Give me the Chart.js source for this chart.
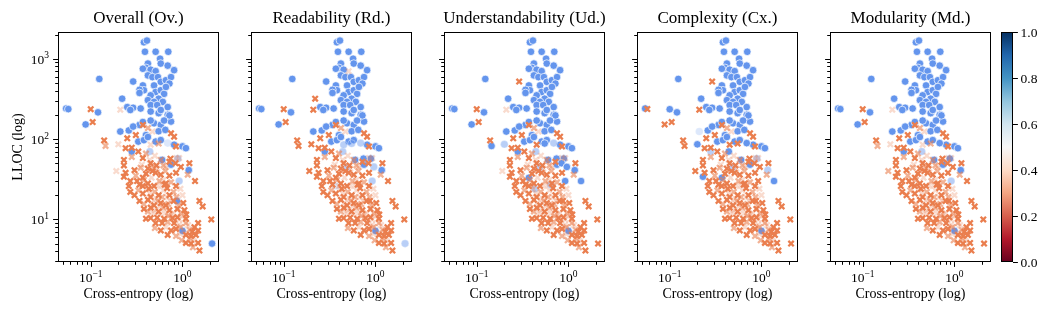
<!DOCTYPE html>
<html><head><meta charset="utf-8">
<script src="https://cdn.jsdelivr.net/npm/chart.js@4.4.1/dist/chart.umd.min.js"></script>
<style>
html,body{margin:0;padding:0;background:#fff;}
#wrap{position:relative;width:1049px;height:313px;overflow:hidden;background:#fff;}
#wrap canvas{position:absolute;left:0;top:0;}
</style></head><body><div id="wrap"></div>
<script>
// ---------------- DATA ----------------
const panelTitles = ['Overall (Ov.)', 'Readability (Rd.)', 'Understandability (Ud.)', 'Complexity (Cx.)', 'Modularity (Md.)'];
const xAxisLabel = 'Cross-entropy (log)';
const yAxisLabel = 'LLOC (log)';
// code per point: one char per panel (Ov, Rd, Ud, Cx, Md)
// B blue circle, b light blue circle, c very light blue circle, O orange cross, o light orange cross, p very light orange cross
const upperPoints = [
  [0.38,1600,'BBBBB'],[0.41,1680,'BBBBB'],[0.39,1220,'BBBBB'],[0.51,1220,'BBBBB'],[0.70,1220,'BBBBB'],
  [0.57,1000,'BBBBB'],[0.42,870,'BBBBB'],[0.40,770,'BBBBB'],[0.37,750,'BBBBB'],[0.58,870,'BBBBB'],
  [0.69,820,'BBBBB'],[0.81,720,'BBBBB'],[0.45,730,'BBBBB'],[0.51,700,'BpBBB'],[0.42,620,'BBBBB'],
  [0.47,590,'BBBBB'],[0.54,590,'BBBBB'],[0.58,515,'BBBBB'],[0.66,540,'BBBBB'],[0.75,590,'BBBBB'],
  [0.72,490,'BBBBB'],[0.37,465,'BBBBB'],[0.38,405,'BBBBB'],[0.49,465,'BBBBB'],[0.51,385,'BBBBB'],
  [0.58,405,'BBBBB'],[0.63,365,'BBBBB'],[0.66,445,'BBBBB'],[0.45,350,'BBBBB'],[0.42,305,'BBBBB'],
  [0.55,318,'BBBBB'],[0.61,290,'BBBBB'],[0.49,290,'BBBBB'],[0.45,265,'BBBBB'],[0.53,265,'BBBBB'],
  [0.69,250,'BBBBB'],[0.124,560,'BBBBB'],[0.29,520,'BBOOB'],[0.34,410,'BBBBB'],[0.34,375,'BBBBB'],
  [0.22,318,'BOBBB'],[0.25,250,'BBBBB'],[0.29,245,'BBBBB'],[0.35,240,'BBBBB'],[0.054,240,'BBBBB'],
  [0.057,236,'BBBOB'],[0.12,215,'BBBBB'],[0.088,152,'BBBOB'],[0.21,124,'BBBcB'],[0.26,128,'BBBBB'],
  [0.34,150,'BBBBB'],[0.29,143,'BBBBB'],[0.33,93,'BBBBB'],[0.28,70,'BBBbB'],[0.45,220,'BBBBB'],
  [0.55,210,'BBBBB'],[0.69,200,'BBBBB'],[0.49,157,'BBBBB'],[0.58,150,'BBBBB'],[0.75,165,'BBBBB'],
  [0.40,112,'BBBBB'],[0.51,93,'BBBBB'],[0.81,85,'BBBBB'],[1.0,81,'BBBBB'],[1.09,77,'BBBBB'],
  [0.6,55,'BBBBB'],[0.75,48,'BBBBB'],[0.38,97,'BBBBB'],[1.17,41,'BBBbB'],[0.27,230,'BBBBB'],
  [0.58,230,'BBBBB'],[0.72,197,'BBBBB'],[0.63,170,'BBBBB'],[0.45,170,'BBBBB'],[0.37,163,'BBBBB'],
  [0.42,106,'BBBBB'],[0.58,97,'BBBBB'],[0.55,125,'BBBBB'],[0.65,130,'BBBBB'],[1.0,7.2,'BBBBB']
];
const middlePoints = [
  [0.69,89,'cbbBB'],[0.44,70,'bbbBb'],[0.92,30,'bbBOb'],[0.89,57,'bBBbB'],[0.87,17,'BOOOO'],
  [2.1,5,'BbOOO'],[0.48,44,'obbbo'],[0.37,33,'OOBBO'],[0.43,24,'OObOO'],[0.64,27,'OObOO'],
  [0.74,57,'OBBOO'],[0.84,50,'OOBOO'],[0.96,45,'ObBOO'],[1.37,30,'OOBBO'],[0.37,26,'OcOOO'],
  [0.45,85,'pbOOp'],[0.55,88,'obBOo'],
  [0.10,235,'OOOBO'],[0.105,163,'OOOOO'],[0.21,232,'pOpOp'],[0.14,96,'OOOOO'],[0.145,82,'oOBOo'],
  [0.20,86,'pObBp'],[0.25,102,'OOOOO'],[0.31,112,'OOOOO'],[0.24,77,'OOOOO'],[0.28,78,'OOOOO'],
  [0.23,47,'OOOOO'],[0.19,40,'pOpOo'],[0.30,41,'OOOOO'],[0.23,34,'OOOBO'],[0.32,30,'OOOOO'],
  [0.26,26,'OOOOO'],[0.37,150,'OOOOO'],[0.42,137,'ooooo'],[0.47,124,'ppppp'],[0.75,118,'OOOOO'],
  [0.81,107,'OOOOO'],[0.85,81,'OOOOO'],[1.19,50,'OOOOO'],[0.92,58,'ppppp'],[0.66,28,'OOOOO']
];
const lowerPoints = [
  [0.23,55,'O'],[0.28,60,'o'],[0.37,58,'O'],[0.45,50,'O'],[0.50,62,'p'],[0.58,55,'o'],[0.72,52,'O'],[0.85,58,'p'],[0.40,66,'o'],[0.33,70,'O'],[0.52,47,'O'],
  [0.24,38,'O'],[0.35,44,'o'],[0.40,37,'O'],[0.47,40,'O'],[0.53,43,'p'],[0.58,36,'O'],[0.65,40,'o'],[0.72,35,'O'],[0.85,38,'O'],[1.14,36,'o'],[0.42,43,'O'],[0.51,38,'O'],
  [0.27,30,'O'],[0.34,27,'O'],[0.38,31,'o'],[0.42,28,'O'],[0.46,33,'p'],[0.49,26,'O'],[0.56,30,'o'],[0.60,27,'p'],[0.68,24.5,'O'],[0.75,29,'o'],[0.85,26,'O'],[0.95,24,'p'],
  [0.27,22,'O'],[0.30,20,'O'],[0.33,23,'o'],[0.37,21,'O'],[0.41,24,'p'],[0.45,19,'O'],[0.50,22,'o'],[0.55,20,'O'],[0.62,23,'p'],[0.72,20,'O'],[0.80,22,'o'],
  [0.34,17,'O'],[0.38,15.5,'o'],[0.42,17.5,'O'],[0.46,16,'p'],[0.49,15,'O'],[0.54,17,'o'],[0.58,16,'O'],[0.66,15,'O'],[0.73,17,'p'],[0.80,17,'O'],[0.90,15,'o'],[1.53,17,'O'],[1.66,14.5,'O'],
  [0.38,13.5,'O'],[0.42,12.5,'o'],[0.45,14,'O'],[0.50,13,'p'],[0.55,12.5,'O'],[0.62,14,'o'],[0.72,13,'O'],[0.80,12,'p'],[0.88,13.5,'O'],[0.96,12,'o'],[1.05,13,'O'],[1.10,11.5,'O'],
  [0.40,10.2,'O'],[0.45,10.4,'O'],[0.53,10.5,'O'],[0.57,11.5,'p'],[0.63,10.2,'O'],[0.70,11,'o'],[0.78,10.4,'O'],[0.88,10.6,'O'],[1.09,10.2,'O'],[2.06,10,'O'],[0.98,11,'p'],
  [0.51,9,'O'],[0.60,9,'O'],[0.69,9.3,'o'],[0.81,9,'O'],[0.92,8.6,'p'],[1.09,9,'o'],[1.35,8,'O'],[1.48,9,'O'],
  [0.50,7.8,'o'],[0.58,7.3,'O'],[0.66,8,'p'],[0.75,7.3,'O'],[0.85,7.6,'O'],[1.2,7.4,'o'],[1.28,7,'O'],[1.48,7.3,'O'],[1.1,6.8,'p'],
  [0.69,6.4,'O'],[0.85,6.2,'o'],[0.95,6.6,'p'],[1.09,6.4,'O'],[1.24,6.2,'O'],[1.4,6.4,'O'],[1.2,5.8,'o'],
  [1.09,5.1,'O'],[1.24,5,'O'],[1.48,5.1,'O'],[1.32,5.4,'p'],[0.98,5.5,'o'],
  [1.53,4.1,'O'],[1.3,4.5,'o'],
  [0.44,21,'p'],[0.52,18,'p'],[0.60,19,'o'],[0.65,12,'p'],[0.70,15.5,'o'],[0.48,12,'p'],[0.56,14.5,'p'],[0.75,11.5,'p'],
  [0.40,26,'p'],[0.53,26,'p'],[0.62,31,'p'],[0.68,19,'p'],[0.86,19,'o'],[0.92,10,'p'],[0.95,8,'o'],[1.15,8.5,'p'],
  [0.31,35,'o'],[0.36,48,'p'],[0.44,55,'p'],[0.62,47,'o'],[1.0,20,'p'],[1.02,16,'O'],[0.66,45,'p']
];
const xRange = [0.044, 2.5];
const yRange = [2.95, 2150];
const xMajorTicks = [0.1, 1];
const xMajorExp = ['\u22121', '0'];
const xMinorTicks = [0.05,0.06,0.07,0.08,0.09,0.2,0.3,0.4,0.5,0.6,0.7,0.8,0.9,2];
const yMajorTicks = [10, 100, 1000];
const yMajorExp = ['1', '2', '3'];
const yMinorTicks = [3,4,5,6,7,8,9,20,30,40,50,60,70,80,90,200,300,400,500,600,700,800,900,2000];
const colorbarTicks = [0, 0.2, 0.4, 0.6, 0.8, 1.0];
const colorbarRange = [0, 1];

// ---------------- STYLE ----------------
const W = 1049, H = 313;
const PANEL_LEFTS = [58, 251, 444, 637, 830];
const PANEL_W = 161, AX_TOP = 32, AX_BOTTOM = 262;
const CB_LEFT = 1001, CB_RIGHT = 1013;
const FONT = '"Liberation Serif", "Times New Roman", serif';
const BLUE = [100,149,237], ORANGE = [234,126,78];
const classStyle = {
  p: {col: ORANGE, a: 0.28, cross: true},
  o: {col: ORANGE, a: 0.6, cross: true},
  O: {col: ORANGE, a: 1, cross: true},
  c: {col: BLUE, a: 0.22, cross: false},
  b: {col: BLUE, a: 0.45, cross: false},
  B: {col: BLUE, a: 1, cross: false}
};
const drawOrder = ['p','o','O','c','b','B'];
const RDBU = ['#67001f','#b2182b','#d6604d','#f4a582','#fddbc7','#f7f7f7','#d1e5f0','#92c5de','#4393c3','#2166ac','#053061'];

const allPoints = upperPoints.concat(middlePoints, lowerPoints);
function codeFor(p, i) { return p[2].length === 1 ? p[2] : p[2][i]; }
function rgba(c, a) { return `rgba(${c[0]},${c[1]},${c[2]},${a})`; }

function drawPow(ctx, exp, x, y, align) {
  ctx.font = `13.5px ${FONT}`;
  const wb = ctx.measureText('10').width;
  ctx.font = `9.5px ${FONT}`;
  const ws = ctx.measureText(exp).width;
  const x0 = align === 'center' ? x - (wb + ws) / 2 : x - (wb + ws);
  ctx.textAlign = 'left'; ctx.textBaseline = 'alphabetic';
  ctx.font = `13.5px ${FONT}`;
  ctx.fillText('10', x0, y);
  ctx.font = `9.5px ${FONT}`;
  ctx.fillText(exp, x0 + wb, y - 5.5);
}

const decorPlugin = {
  id: 'decor',
  afterDraw(chart, args, opts) {
    const {ctx, chartArea: a} = chart;
    const xs = chart.scales.x, ys = chart.scales.y;
    ctx.save();
    ctx.fillStyle = '#000'; ctx.strokeStyle = '#000'; ctx.lineWidth = 1;
    ctx.strokeRect(Math.round(a.left) + 0.5, Math.round(a.top) + 0.5, Math.round(a.right - a.left) - 1, Math.round(a.bottom - a.top) - 1);
    if (opts.kind === 'panel') {
      const tick = (vals, len) => {
        vals.forEach(v => {
          const px = Math.round(xs.getPixelForValue(v)) + 0.5;
          ctx.beginPath(); ctx.moveTo(px, a.bottom); ctx.lineTo(px, a.bottom + len); ctx.stroke();
        });
      };
      const ytick = (vals, len) => {
        vals.forEach(v => {
          const py = Math.round(ys.getPixelForValue(v)) + 0.5;
          ctx.beginPath(); ctx.moveTo(a.left, py); ctx.lineTo(a.left - len, py); ctx.stroke();
        });
      };
      tick(xMajorTicks, 4.9); tick(xMinorTicks, 2.8);
      ytick(yMajorTicks, 4.9); ytick(yMinorTicks, 2.8);
      xMajorTicks.forEach((v, i) => drawPow(ctx, xMajorExp[i], xs.getPixelForValue(v), 282, 'center'));
      if (opts.showY) {
        yMajorTicks.forEach((v, i) => drawPow(ctx, yMajorExp[i], 49, ys.getPixelForValue(v) + 5, 'right'));
        ctx.save();
        ctx.font = `14px ${FONT}`; ctx.textAlign = 'center'; ctx.textBaseline = 'alphabetic';
        ctx.translate(22, (a.top + a.bottom) / 2); ctx.rotate(-Math.PI / 2);
        ctx.fillText(yAxisLabel, 0, 0);
        ctx.restore();
      }
      const cx = (a.left + a.right) / 2;
      ctx.textAlign = 'center'; ctx.textBaseline = 'alphabetic';
      ctx.font = `17px ${FONT}`;
      ctx.fillText(opts.title, cx, 23);
      ctx.font = `14px ${FONT}`;
      ctx.fillText(xAxisLabel, cx, 298);
    } else {
      colorbarTicks.forEach(v => {
        const py = Math.round(ys.getPixelForValue(v)) + 0.5;
        ctx.beginPath(); ctx.moveTo(a.right, py); ctx.lineTo(a.right + 4.9, py); ctx.stroke();
        ctx.font = `13.5px ${FONT}`; ctx.textAlign = 'left'; ctx.textBaseline = 'middle';
        ctx.fillText(v.toFixed(1), a.right + 7.5, py + 0.5);
      });
    }
    ctx.restore();
  }
};
Chart.register(decorPlugin);

const wrap = document.getElementById('wrap');
function newCanvas() {
  const c = document.createElement('canvas');
  c.width = W; c.height = H; c.style.width = W + 'px'; c.style.height = H + 'px';
  wrap.appendChild(c);
  return c.getContext('2d');
}

panelTitles.forEach((title, i) => {
  const datasets = drawOrder.map(k => {
    const st = classStyle[k];
    const pts = allPoints.filter(p => codeFor(p, i) === k).map(p => ({x: p[0], y: p[1]}));
    const col = rgba(st.col, st.a);
    return st.cross ? {
      data: pts, pointStyle: 'crossRot', pointRadius: 3.8, pointBorderWidth: 2.3,
      pointBorderColor: col, pointBackgroundColor: col, showLine: false
    } : {
      data: pts, pointStyle: 'circle', pointRadius: 3.8, pointBorderWidth: 0.7,
      pointBorderColor: rgba([255,255,255], st.a), pointBackgroundColor: col, showLine: false
    };
  });
  const L = PANEL_LEFTS[i];
  new Chart(newCanvas(), {
    type: 'scatter',
    data: {datasets},
    options: {
      responsive: false, animation: false, devicePixelRatio: 1, events: [],
      layout: {padding: {left: L, right: W - L - PANEL_W, top: AX_TOP, bottom: H - AX_BOTTOM}},
      scales: {
        x: {type: 'logarithmic', display: false, min: xRange[0], max: xRange[1]},
        y: {type: 'logarithmic', display: false, min: yRange[0], max: yRange[1]}
      },
      plugins: {legend: {display: false}, tooltip: {enabled: false}, title: {display: false},
        decor: {kind: 'panel', title, showY: i === 0}}
    }
  });
});

// colorbar
new Chart(newCanvas(), {
  type: 'bar',
  data: {labels: [''], datasets: [{
    data: [colorbarRange],
    barPercentage: 1, categoryPercentage: 1, borderWidth: 0,
    backgroundColor: (ctx) => {
      const area = ctx.chart.chartArea;
      if (!area) return '#888';
      const g = ctx.chart.ctx.createLinearGradient(0, area.bottom, 0, area.top);
      RDBU.forEach((c, k) => g.addColorStop(k / (RDBU.length - 1), c));
      return g;
    }
  }]},
  options: {
    responsive: false, animation: false, devicePixelRatio: 1, events: [],
    layout: {padding: {left: CB_LEFT, right: W - CB_RIGHT, top: AX_TOP, bottom: H - AX_BOTTOM}},
    scales: {x: {display: false}, y: {display: false, min: 0, max: 1}},
    plugins: {legend: {display: false}, tooltip: {enabled: false}, decor: {kind: 'colorbar'}}
  }
});
</script></body></html>
